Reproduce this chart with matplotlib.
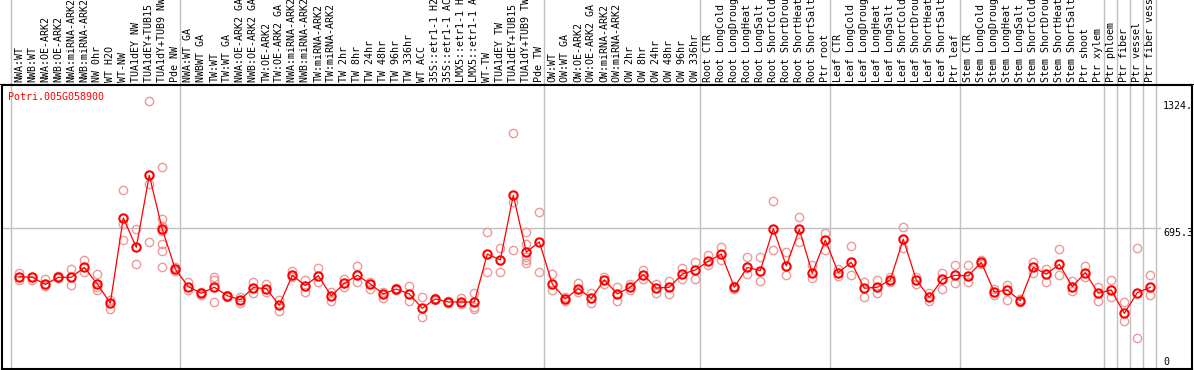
import matplotlib
matplotlib.use("Agg")
import matplotlib.pyplot as plt

gene = "Potri.005G058900"

labels = [
    "NWA:WT", "NWB:WT", "NWA:OE-ARK2", "NWB:OE-ARK2", "NWA:miRNA-ARK2", "NWB:miRNA-ARK2",
    "NW 0hr", "WT H2O", "WT-NW", "TUA1dEY NW", "TUA1dEY+TUB15 NW", "TUA1dY+TUB9 NW", "Pde NW",
    "NWA:WT GA", "NWBWT GA", "TW:WT", "TW:WT GA", "NWA:OE-ARK2 GA", "NWB:OE-ARK2 GA",
    "TW:OE-ARK2", "TW:OE-ARK2 GA", "NWA:miRNA-ARK2 GA", "NWB:miRNA-ARK2 GA",
    "TW:miRNA-ARK2", "TW:miRNA-ARK2 GA", "TW 2hr", "TW 8hr", "TW 24hr", "TW 48hr", "TW 96hr",
    "TW 336hr", "WT ACC", "35S::etr1-1 H2O", "35S::etr1-1 ACC", "LMX5::etr1-1 H2O",
    "LMX5::etr1-1 ACC", "WT-TW", "TUA1dEY TW", "TUA1dEY+TUB15 TW", "TUA1dY+TUB9 TW", "Pde TW",
    "OW:WT", "OW:WT GA", "OW:OE-ARK2", "OW:OE-ARK2 GA", "OW:miRNA-ARK2", "OW:miRNA-ARK2 GA",
    "OW 2hr", "OW 8hr", "OW 24hr", "OW 48hr", "OW 96hr", "OW 336hr",
    "Root CTR", "Root LongCold", "Root LongDrought", "Root LongHeat", "Root LongSalt",
    "Root ShortCold", "Root ShortDrought", "Root ShortHeat", "Root ShortSalt", "Ptr root",
    "Leaf CTR", "Leaf LongCold", "Leaf LongDrought", "Leaf LongHeat", "Leaf LongSalt",
    "Leaf ShortCold", "Leaf ShortDrought", "Leaf ShortHeat", "Leaf ShortSalt", "Ptr leaf",
    "Stem CTR", "Stem LongCold", "Stem LongDrought", "Stem LongHeat", "Stem LongSalt",
    "Stem ShortCold", "Stem ShortDrought", "Stem ShortHeat", "Stem ShortSalt", "Ptr shoot",
    "Ptr xylem", "Ptr phloem", "Ptr fiber", "Ptr vessel", "Ptr fiber vessel",
]

means = [
    456, 453, 418, 453, 453, 502, 420, 325, 746, 601, 957, 690, 493,
    407, 374, 404, 362, 342, 402, 397, 315, 463, 412, 461, 361, 423, 463, 420, 371, 395,
    371, 300, 346, 331, 331, 331, 568, 539, 858, 577, 628,
    420, 346, 397, 349, 440, 371, 404, 466, 400, 404, 469, 489,
    532, 568, 404, 502, 486, 693, 509, 690, 473, 637,
    476, 527, 399, 404, 440, 641, 440, 354, 443, 463,
    460, 527, 380, 390, 337, 502, 469, 517, 407, 476, 374,
    390, 275, 377, 404,
]

reps = [
    [476, 440], [456, 440], [443, 410], [460, 448], [493, 417], [539, 481], [469, 404, 390],
    [341, 298], [884, 716, 637], [690, 519], [1324, 914, 626],
    [997, 740, 707, 680, 618, 582, 502], [505, 486],
    [430, 390], [380, 367], [453, 440, 331], [366, 357], [354, 328], [430, 374], [420, 382],
    [341, 288], [483, 456], [440, 380], [498, 430], [380, 337], [445, 404], [509, 430],
    [430, 394], [380, 351], [399, 390], [410, 335], [357, 255], [349, 341], [337, 325],
    [351, 321], [374, 305, 298], [675, 478], [598, 478], [1165, 825, 588],
    [675, 616, 555, 539, 525], [776, 479],
    [469, 390], [354, 335], [423, 380], [374, 328], [453, 420], [404, 335], [420, 390],
    [489, 446], [420, 374], [436, 371], [498, 443], [529, 446],
    [565, 512], [601, 539], [410, 397], [552, 469], [552, 433], [829, 588], [578, 463],
    [750, 627], [512, 450], [673, 588],
    [496, 460], [608, 464], [430, 354], [440, 374], [455, 430], [700, 596], [453, 420],
    [374, 335], [476, 397], [512, 423],
    [512, 430], [539, 519], [397, 367], [417, 341], [344, 331], [529, 476], [496, 430],
    [591, 463], [433, 387], [509, 456], [404, 335],
    [438, 357], [330, 239], [596, 153], [463, 364],
]

# group separators drawn just after these sample indices
separators = [-1, 12, 40, 52, 62, 72, 83, 84, 85, 86, 87]
ytick_vals = [1324, 695.3, 0]
ytick_text = ["1324.", "695.3", "0"]

W, H = 1194, 370
fig = plt.figure(figsize=(W / 100, H / 100), dpi=100)


def px(x):
    # pixel column -> sample index
    return (x - 19.3) / 13.0


mono = "DejaVu Sans Mono"
grid_c = "#c0c0c0"

ax = fig.add_axes([2 / W, 1 / H, 1190 / W, 284 / H])
ax.set_xlim(px(2), px(1192))
ax.set_ylim(0, 1403)
ax.set_xticks([])
ax.set_yticks([])
for s in ax.spines.values():
    s.set_color("black")
    s.set_linewidth(1.5)

for s in separators:
    off = 0.36 if s < 83 else 0.44
    ax.axvline(s + off, color=grid_c, lw=1, zorder=0)
ax.axhline(695.3, xmax=(1160 - 2) / 1190, color=grid_c, lw=1, zorder=0)

xs = list(range(len(means)))
for i, r in enumerate(reps):
    ax.plot([i] * len(r), r, "o", ms=6, mfc="none", mec="#ee9a9a", mew=1.0, zorder=2)
ax.plot(xs, means, "-", color="red", lw=0.9, zorder=3)
ax.plot(xs, means, "o", ms=6, mfc="none", mec="red", mew=1.5, zorder=4)

ax.text(px(8), 1403 - (97 - 85) * 4.94, gene, color="red", family=mono, fontsize=7.2,
        ha="left", va="center")

for v, t in zip(ytick_vals, ytick_text):
    if v == 0:
        ax.text(px(1163), 8, t, family=mono, fontsize=7.2, ha="left", va="bottom")
    else:
        ax.text(px(1163), v, t, family=mono, fontsize=7.2, ha="left", va="top")

# header with rotated sample names (long ones run off the top, as in the source)
hx = fig.add_axes([0, 285 / H, 1, 85 / H])
hx.set_xlim(px(0), px(W))
hx.set_ylim(0, 85)
hx.axis("off")
for s in separators:
    off = 0.36 if s < 83 else 0.44
    hx.axvline(s + off, color=grid_c, lw=1)
hx.axhline(0, color="black", lw=1.5)
for i, lab in enumerate(labels):
    hx.text(i, 2.5, lab, rotation=90, family=mono, fontsize=7.2, ha="center", va="bottom",
            clip_on=False)

fig.savefig("out.png", dpi=100)
